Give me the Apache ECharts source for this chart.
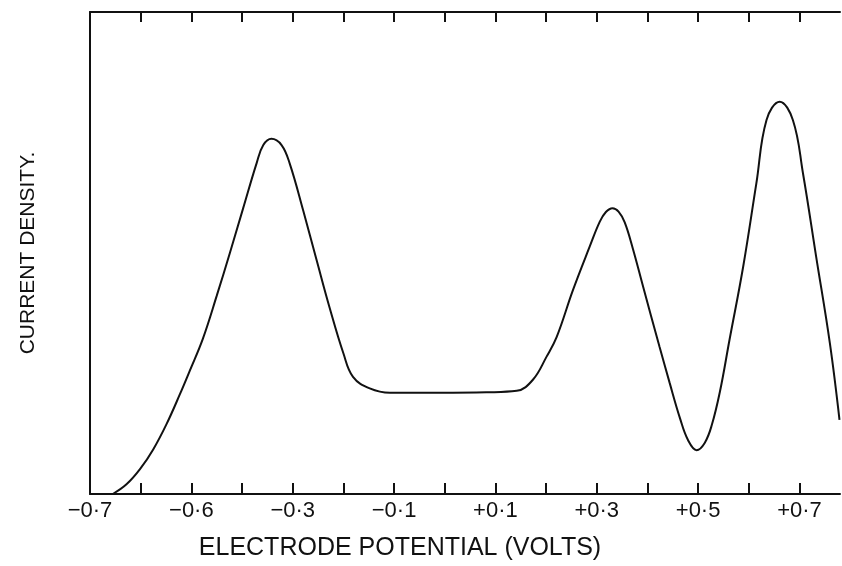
<!DOCTYPE html>
<html>
<head>
<meta charset="utf-8">
<script src="https://cdn.jsdelivr.net/npm/echarts@6/dist/echarts.min.js"></script>
<style>
html,body{margin:0;padding:0;background:#fff;}
#chart{width:842px;height:566px;}
</style>
</head>
<body>
<div id="chart"></div>
<script>
// Electrode potential (volts) of traced points
const potential = [-0.655, -0.628, -0.601, -0.575, -0.549, -0.523, -0.503, -0.477, -0.450, -0.424, -0.398, -0.371, -0.358, -0.342, -0.322, -0.306, -0.279, -0.253, -0.227, -0.200, -0.181, -0.148, -0.108, -0.010, 0.082, 0.142, 0.174, 0.201, 0.221, 0.253, 0.286, 0.306, 0.318, 0.331, 0.343, 0.355, 0.371, 0.391, 0.424, 0.444, 0.464, 0.480, 0.497, 0.513, 0.527, 0.543, 0.562, 0.589, 0.615, 0.635, 0.661, 0.687, 0.707, 0.733, 0.760, 0.779];
// Current density (arbitrary units)
const currentDensity = [0.0, 2.0, 5.2, 9.3, 14.5, 20.6, 25.6, 32.3, 41.1, 50.0, 59.2, 68.7, 72.4, 73.7, 72.4, 68.6, 58.7, 48.6, 38.6, 29.2, 24.3, 21.9, 21.0, 21.0, 21.1, 21.4, 23.7, 28.5, 32.6, 42.3, 51.3, 56.5, 58.5, 59.3, 58.6, 56.4, 51.0, 43.2, 30.5, 23.0, 15.8, 11.2, 9.1, 10.6, 14.3, 21.2, 32.0, 47.2, 64.5, 77.6, 81.4, 77.6, 66.5, 49.2, 31.3, 15.4];
// Axis ticks and labels (labels as printed on the original figure)
const tickValues = [-0.7, -0.6, -0.5, -0.4, -0.3, -0.2, -0.1, 0.0, 0.1, 0.2, 0.3, 0.4, 0.5, 0.6, 0.7];
const labelValues = [-0.7, -0.5, -0.3, -0.1, 0.1, 0.3, 0.5, 0.7];
const tickLabels = ['\u22120\u00b77', '\u22120\u00b76', '\u22120\u00b73', '\u22120\u00b71', '+0\u00b71', '+0\u00b73', '+0\u00b75', '+0\u00b77'];
const xAxisTitle = 'ELECTRODE POTENTIAL (VOLTS)';
const yAxisTitle = 'CURRENT DENSITY.';

const chart = echarts.init(document.getElementById('chart'), null, {renderer: 'canvas'});
const font = '"Liberation Sans", Arial, sans-serif';
function labelFor(v) {
  for (let i = 0; i < labelValues.length; i++) {
    if (Math.abs(v - labelValues[i]) < 1e-6) return tickLabels[i];
  }
  return '';
}
chart.setOption({
  animation: false,
  backgroundColor: '#fff',
  grid: {left: 90, right: 2, top: 12, bottom: 72, containLabel: false},
  xAxis: [{
    type: 'value', position: 'bottom', min: -0.7, max: 0.78, interval: 0.1,
    name: xAxisTitle, nameLocation: 'middle', nameGap: 42,
    nameTextStyle: {fontFamily: font, fontSize: 25, color: '#111', padding: [0, 130, 0, 0]},
    axisLine: {show: true, onZero: false, lineStyle: {color: '#111', width: 2}},
    axisTick: {show: true, inside: true, length: 11, customValues: tickValues, lineStyle: {color: '#111', width: 2}},
    axisLabel: {show: true, customValues: labelValues, margin: 6, fontFamily: font, fontSize: 22, color: '#111', formatter: labelFor},
    splitLine: {show: false}
  }, {
    type: 'value', position: 'top', min: -0.7, max: 0.78, interval: 0.1,
    axisLine: {show: true, onZero: false, lineStyle: {color: '#111', width: 2}},
    axisTick: {show: true, inside: true, length: 10, customValues: tickValues, lineStyle: {color: '#111', width: 2}},
    axisLabel: {show: false},
    splitLine: {show: false}
  }],
  yAxis: {
    type: 'value', min: 0, max: 100,
    name: yAxisTitle, nameLocation: 'middle', nameGap: 51,
    nameTextStyle: {fontFamily: font, fontSize: 21, color: '#111'},
    axisLine: {show: true, onZero: false, lineStyle: {color: '#111', width: 2}},
    axisTick: {show: false}, axisLabel: {show: false}, splitLine: {show: false}
  },
  series: [{
    type: 'line', xAxisIndex: 0,
    data: potential.map((x, i) => [x, currentDensity[i]]),
    smooth: 0.4, showSymbol: false, clip: true,
    lineStyle: {color: '#111', width: 2}
  }]
});
</script>
</body>
</html>
